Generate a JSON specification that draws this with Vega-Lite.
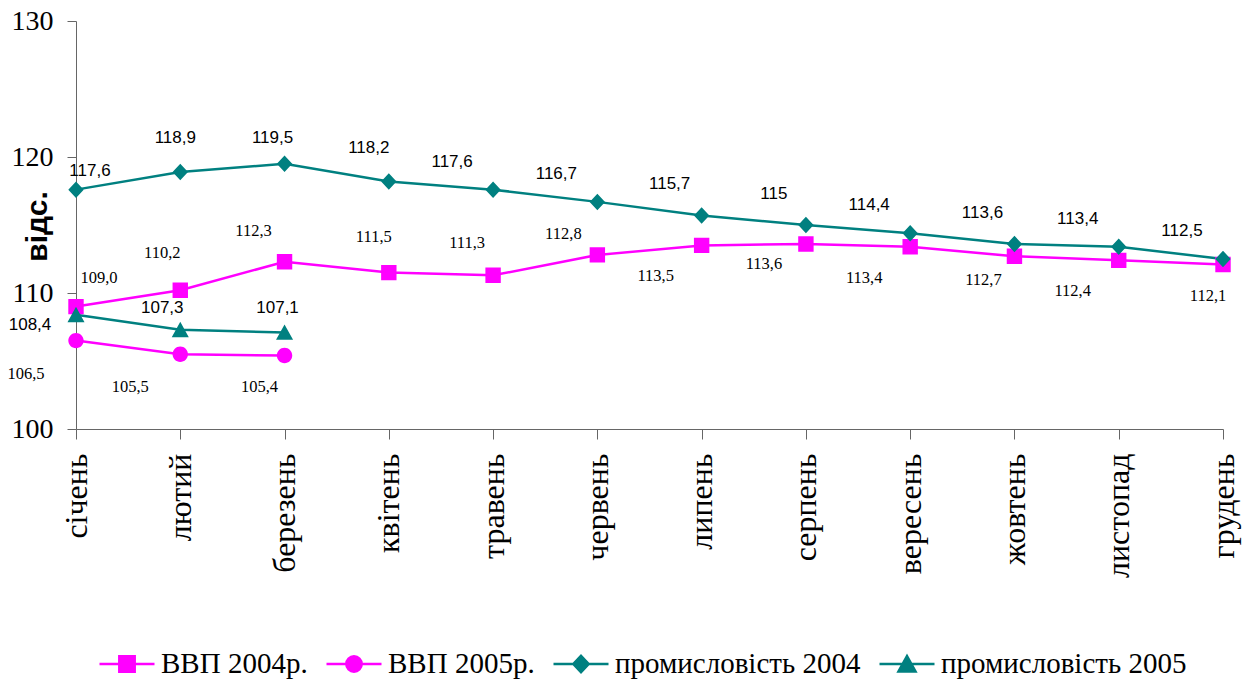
{
  "$schema": "https://vega.github.io/schema/vega-lite/v6.json",
  "autosize": {"type": "none"},
  "padding": {"left": 76, "top": 21, "right": 28, "bottom": 253},
  "width": 1147,
  "height": 408,
  "background": "white",
  "config": {
    "view": {"stroke": null},
    "locale": {"number": {"decimal": ",", "thousands": " ", "grouping": [3], "currency": ["", ""]}},
    "style": {
      "sansLbl": {"font": "Liberation Sans", "fontSize": 17, "fill": "#000000"},
      "serifLbl": {"font": "Liberation Serif", "fontSize": 16.5, "fill": "#000000"}
    }
  },
  "data": {
    "values": [
      {"m": "січень", "s": "ВВП 2004р.", "v": 109.0},
      {"m": "лютий", "s": "ВВП 2004р.", "v": 110.2},
      {"m": "березень", "s": "ВВП 2004р.", "v": 112.3},
      {"m": "квітень", "s": "ВВП 2004р.", "v": 111.5},
      {"m": "травень", "s": "ВВП 2004р.", "v": 111.3},
      {"m": "червень", "s": "ВВП 2004р.", "v": 112.8},
      {"m": "липень", "s": "ВВП 2004р.", "v": 113.5},
      {"m": "серпень", "s": "ВВП 2004р.", "v": 113.6},
      {"m": "вересень", "s": "ВВП 2004р.", "v": 113.4},
      {"m": "жовтень", "s": "ВВП 2004р.", "v": 112.7},
      {"m": "листопад", "s": "ВВП 2004р.", "v": 112.4},
      {"m": "грудень", "s": "ВВП 2004р.", "v": 112.1},
      {"m": "січень", "s": "ВВП 2005р.", "v": 106.5},
      {"m": "лютий", "s": "ВВП 2005р.", "v": 105.5},
      {"m": "березень", "s": "ВВП 2005р.", "v": 105.4},
      {"m": "січень", "s": "промисловість 2004", "v": 117.6},
      {"m": "лютий", "s": "промисловість 2004", "v": 118.9},
      {"m": "березень", "s": "промисловість 2004", "v": 119.5},
      {"m": "квітень", "s": "промисловість 2004", "v": 118.2},
      {"m": "травень", "s": "промисловість 2004", "v": 117.6},
      {"m": "червень", "s": "промисловість 2004", "v": 116.7},
      {"m": "липень", "s": "промисловість 2004", "v": 115.7},
      {"m": "серпень", "s": "промисловість 2004", "v": 115},
      {"m": "вересень", "s": "промисловість 2004", "v": 114.4},
      {"m": "жовтень", "s": "промисловість 2004", "v": 113.6},
      {"m": "листопад", "s": "промисловість 2004", "v": 113.4},
      {"m": "грудень", "s": "промисловість 2004", "v": 112.5},
      {"m": "січень", "s": "промисловість 2005", "v": 108.4},
      {"m": "лютий", "s": "промисловість 2005", "v": 107.3},
      {"m": "березень", "s": "промисловість 2005", "v": 107.1}
    ]
  },
  "encoding": {
    "x": {
      "field": "m", "type": "ordinal",
      "sort": ["січень", "лютий", "березень", "квітень", "травень", "червень", "липень", "серпень", "вересень", "жовтень", "листопад", "грудень"],
      "scale": {"type": "point", "padding": 0},
      "axis": {
        "title": null, "labelAngle": -90, "labelFont": "Liberation Serif", "labelFontSize": 32,
        "labelColor": "#000000", "tickSize": 10, "labelPadding": 14, "domainColor": "#666666",
        "tickColor": "#666666", "grid": false
      }
    },
    "y": {
      "field": "v", "type": "quantitative",
      "scale": {"domain": [100, 130], "nice": false, "zero": false},
      "axis": {
        "values": [100, 110, 120, 130], "title": "відс.", "titleFont": "Liberation Sans",
        "titleFontWeight": "bold", "titleFontSize": 30, "titleColor": "#000000",
        "titleX": -39, "titleY": 205, "titleAngle": -90, "titleBaseline": "middle", "titleAlign": "center",
        "labelFont": "Liberation Serif", "labelFontSize": 28, "labelColor": "#000000",
        "tickSize": 9, "labelPadding": 14, "domainColor": "#666666", "tickColor": "#666666", "grid": false
      }
    },
    "color": {
      "field": "s", "type": "nominal",
      "scale": {"domain": ["ВВП 2004р.", "ВВП 2005р.", "промисловість 2004", "промисловість 2005"], "range": ["#ff00ff", "#ff00ff", "#008080", "#008080"]},
      "legend": {
        "orient": "none", "legendX": 22, "legendY": 614, "direction": "horizontal", "columns": 4,
        "title": null, "symbolSize": 3025, "symbolStrokeWidth": 2.5, "symbolOpacity": 1,
        "labelFont": "Liberation Serif", "labelFontSize": 29, "labelColor": "#000000",
        "labelLimit": 400, "labelOffset": 5, "columnPadding": 13, "padding": 0,
        "encode": {"symbols": {"update": {"stroke": {"scale": "color", "field": "value"}}}}
      }
    }
  },
  "layer": [
    {
      "mark": {"type": "line", "strokeWidth": 2.5}
    },
    {
      "mark": {"type": "point", "filled": true, "opacity": 1, "size": 3025},
      "encoding": {
        "shape": {
          "field": "s", "type": "nominal",
          "scale": {
            "domain": ["ВВП 2004р.", "ВВП 2005р.", "промисловість 2004", "промисловість 2005"],
            "range": [
              "M-1,0H1M-0.28,-0.28H0.28V0.28H-0.28Z",
              "M-1,0H1M-0.28,0A0.28,0.28,0,1,0,0.28,0A0.28,0.28,0,1,0,-0.28,0Z",
              "M-1,0H1M0,-0.3L0.28,0L0,0.3L-0.28,0Z",
              "M-1,0H1M0,-0.29L0.31,0.27L-0.31,0.27Z"
            ]
          },
          "legend": {
            "orient": "none", "legendX": 22, "legendY": 614, "direction": "horizontal", "columns": 4,
            "title": null, "symbolSize": 3025, "symbolStrokeWidth": 2.5, "symbolOpacity": 1,
            "labelFont": "Liberation Serif", "labelFontSize": 29, "labelColor": "#000000",
            "labelLimit": 400, "labelOffset": 5, "columnPadding": 13, "padding": 0,
            "encode": {"symbols": {"update": {"stroke": {"scale": "color", "field": "value"}}}}
          }
        }
      }
    },
    {
      "transform": [{"filter": {"field": "s", "equal": "промисловість 2004"}}],
      "encoding": {"text": {"field": "v", "type": "quantitative", "format": ".4~g"}, "color": {"value": "#000000"}},
      "layer": [
        {"transform": [{"filter": {"field": "m", "oneOf": ["січень"]}}], "mark": {"type": "text", "style": "sansLbl", "dx": 14, "dy": -19}},
        {"transform": [{"filter": {"field": "m", "oneOf": ["лютий"]}}], "mark": {"type": "text", "style": "sansLbl", "dx": -5, "dy": -34}},
        {"transform": [{"filter": {"field": "m", "oneOf": ["березень"]}}], "mark": {"type": "text", "style": "sansLbl", "dx": -12, "dy": -26}},
        {"transform": [{"filter": {"field": "m", "oneOf": ["квітень"]}}], "mark": {"type": "text", "style": "sansLbl", "dx": -20, "dy": -33}},
        {"transform": [{"filter": {"field": "m", "oneOf": ["травень", "червень", "вересень", "листопад", "грудень"]}}], "mark": {"type": "text", "style": "sansLbl", "dx": -41, "dy": -28}},
        {"transform": [{"filter": {"field": "m", "oneOf": ["липень", "серпень", "жовтень"]}}], "mark": {"type": "text", "style": "sansLbl", "dx": -32, "dy": -31}}
      ]
    },
    {
      "transform": [{"filter": {"field": "s", "equal": "ВВП 2004р."}}],
      "encoding": {"text": {"field": "v", "type": "quantitative", "format": ".1f"}, "color": {"value": "#000000"}},
      "layer": [
        {"transform": [{"filter": {"field": "m", "oneOf": ["січень"]}}], "mark": {"type": "text", "style": "serifLbl", "dx": 23, "dy": -29}},
        {"transform": [{"filter": {"field": "m", "oneOf": ["лютий"]}}], "mark": {"type": "text", "style": "serifLbl", "dx": -18, "dy": -37}},
        {"transform": [{"filter": {"field": "m", "oneOf": ["березень"]}}], "mark": {"type": "text", "style": "serifLbl", "dx": -31, "dy": -31}},
        {"transform": [{"filter": {"field": "m", "oneOf": ["квітень"]}}], "mark": {"type": "text", "style": "serifLbl", "dx": -15, "dy": -36}},
        {"transform": [{"filter": {"field": "m", "oneOf": ["травень"]}}], "mark": {"type": "text", "style": "serifLbl", "dx": -26, "dy": -32}},
        {"transform": [{"filter": {"field": "m", "oneOf": ["червень"]}}], "mark": {"type": "text", "style": "serifLbl", "dx": -34, "dy": -21}},
        {"transform": [{"filter": {"field": "m", "oneOf": ["липень", "вересень", "листопад"]}}], "mark": {"type": "text", "style": "serifLbl", "dx": -46, "dy": 31}},
        {"transform": [{"filter": {"field": "m", "oneOf": ["серпень"]}}], "mark": {"type": "text", "style": "serifLbl", "dx": -42, "dy": 20}},
        {"transform": [{"filter": {"field": "m", "oneOf": ["жовтень"]}}], "mark": {"type": "text", "style": "serifLbl", "dx": -31, "dy": 24}},
        {"transform": [{"filter": {"field": "m", "oneOf": ["грудень"]}}], "mark": {"type": "text", "style": "serifLbl", "dx": -15, "dy": 32}}
      ]
    },
    {
      "transform": [{"filter": {"field": "s", "equal": "промисловість 2005"}}],
      "encoding": {"text": {"field": "v", "type": "quantitative", "format": ".1f"}, "color": {"value": "#000000"}},
      "layer": [
        {"transform": [{"filter": {"field": "m", "oneOf": ["січень"]}}], "mark": {"type": "text", "style": "sansLbl", "dx": -46, "dy": 10}},
        {"transform": [{"filter": {"field": "m", "oneOf": ["лютий"]}}], "mark": {"type": "text", "style": "sansLbl", "dx": -18, "dy": -22}},
        {"transform": [{"filter": {"field": "m", "oneOf": ["березень"]}}], "mark": {"type": "text", "style": "sansLbl", "dx": -7, "dy": -24}}
      ]
    },
    {
      "transform": [{"filter": {"field": "s", "equal": "ВВП 2005р."}}],
      "encoding": {"text": {"field": "v", "type": "quantitative", "format": ".1f"}, "color": {"value": "#000000"}},
      "layer": [
        {"transform": [{"filter": {"field": "m", "oneOf": ["січень", "лютий"]}}], "mark": {"type": "text", "style": "serifLbl", "dx": -50, "dy": 33}},
        {"transform": [{"filter": {"field": "m", "oneOf": ["березень"]}}], "mark": {"type": "text", "style": "serifLbl", "dx": -25, "dy": 31}}
      ]
    }
  ]
}
